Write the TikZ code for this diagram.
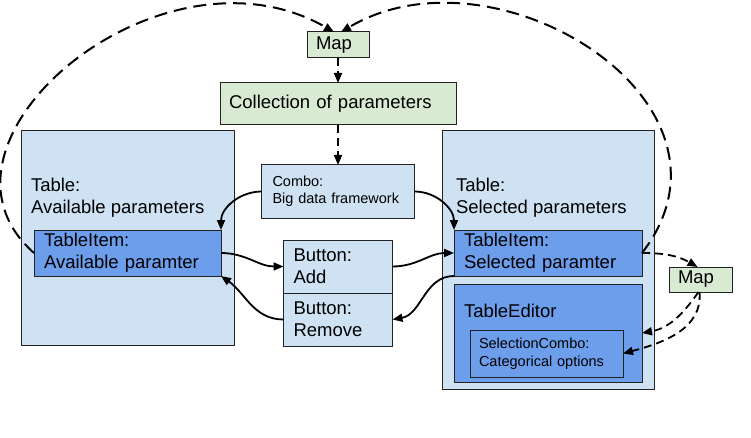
\documentclass[tikz,border=0pt]{standalone}
\usepackage{fontspec}
\setsansfont{Liberation Sans}
\usepackage{tikz}
\usetikzlibrary{positioning,calc,arrows.meta}
\definecolor{tblblue}{RGB}{207,226,243}
\definecolor{itemblue}{RGB}{109,158,235}
\definecolor{mapgreen}{RGB}{217,234,211}
\definecolor{boxline}{RGB}{34,34,34}
\tikzset{
  mapdiagram/.style={
    x=1pt,y=1pt
    ,inner sep=0pt
    ,outer sep=0pt
    ,>={Triangle[length=10pt,width=8pt]}
  }
  ,bigtext/.style={font=\sffamily\fontsize{18.5}{22}\selectfont}
  ,smalltext/.style={font=\sffamily\fontsize{14.5}{17.5}\selectfont}
  ,bounder/.style={draw=boxline,line width=1pt,align=left,inner xsep=10pt}
  ,tablebox/.style={bounder,fill=tblblue}
  ,tabletitle/.style={bigtext,align=left,anchor=west}
  ,itembox/.style={bounder,fill=itemblue,bigtext}
  ,widget/.style={bounder,fill=tblblue}
  ,mapbox/.style={bounder,fill=mapgreen,bigtext,inner xsep=9pt}
  ,flow/.style={->,line width=1.8pt,draw=black}
  ,mapflow/.style={flow,dash pattern=on 8pt off 5pt}
  ,maploop/.style={flow,line width=2pt,dash pattern=on 13pt off 7pt}
}
\begin{document}
\begin{tikzpicture}[mapdiagram]
    \useasboundingbox (0,0) rectangle (751,-438);
    % parameter source
    \node[mapbox,bigtext,text width=218pt,minimum height=42pt] (colln) at (338,-104) {Collection of parameters};
    \node[mapbox,text width=44pt,minimum height=26pt,above=25pt of colln] (mapTop) {Map};
    \node[widget,smalltext,inner xsep=11pt,text width=131pt,minimum height=53pt,below=40pt of colln] (combo) {Combo:\\Big data framework};
    % buttons
    \node[widget,bigtext,text width=89pt,minimum height=53pt,below=22pt of combo] (btnAdd) {Button:\\Add};
    \node[widget,bigtext,text width=89pt,minimum height=53pt,below=0pt of btnAdd] (btnRemove) {Button:\\Remove};
    % available table
    \node[tablebox,minimum width=213pt,minimum height=214pt] (tblAvail) at (127.5,-238) {};
    \node[tabletitle] (tblAvailTxt) at (31,-197.5) {Table:\\Available parameters};
    \node[itembox,text width=167pt,minimum height=46pt] (itemAvail) at (127.5,-253) {TableItem:\\Available paramter};
    % selected table
    \node[tablebox,minimum width=212pt,minimum height=258pt] (tblSel) at (548,-260) {};
    \node[tabletitle] (tblSelTxt) at (456,-197.5) {Table:\\Selected parameters};
    \node[itembox,text width=168pt,minimum height=46pt] (itemSel) at (548,-253) {TableItem:\\Selected paramter};
    \node[itembox,text width=168pt,minimum height=98pt] (tblEditor) at (548,-333) {};
    \node[bigtext,anchor=base west] (tblEditorTxt) at (464,-317) {TableEditor};
    \node[itembox,smalltext,inner xsep=9pt,text width=135pt,minimum height=47pt] (selCombo) at (546.5,-353.5) {SelectionCombo:\\Categorical options};
    \node[mapbox,text width=45pt,minimum height=25pt] (mapSel) at (700.5,-279.5) {Map};
    % connectors
    \draw[mapflow] (mapTop) -- (colln);
    \draw[mapflow] (colln) -- (combo);
    \draw[flow] (combo.west) to[out=180,in=90] (itemAvail.north east);
    \draw[flow] (combo.east) to[out=0,in=90] (itemSel.north west);
    \draw[flow] (itemAvail.east) to[out=0,in=180] (btnAdd.west);
    \draw[flow] (btnAdd.east) to[out=0,in=180] (itemSel.west);
    \draw[flow] (itemSel.south west) to[out=180,in=10] (btnRemove.east);
    \draw[flow] (btnRemove.west) to[out=180,in=-35] (itemAvail.south east);
    \draw[maploop] (itemAvail.west) .. controls +(-125,110) and +(-174,100) .. ([xshift=-4pt]mapTop.north);
    \draw[maploop] (itemSel.east) .. controls +(116,150) and +(155,92) .. ([xshift=3pt]mapTop.north);
    \draw[mapflow] (itemSel.east) to[out=0,in=150] ([xshift=-3pt]mapSel.north);
    \draw[mapflow] ([xshift=-2pt]mapSel.south) to[out=-125,in=10] (tblEditor.east);
    \draw[mapflow] ([xshift=-1pt]mapSel.south) to[out=-85,in=15] (selCombo.east);
\end{tikzpicture}
\end{document}
